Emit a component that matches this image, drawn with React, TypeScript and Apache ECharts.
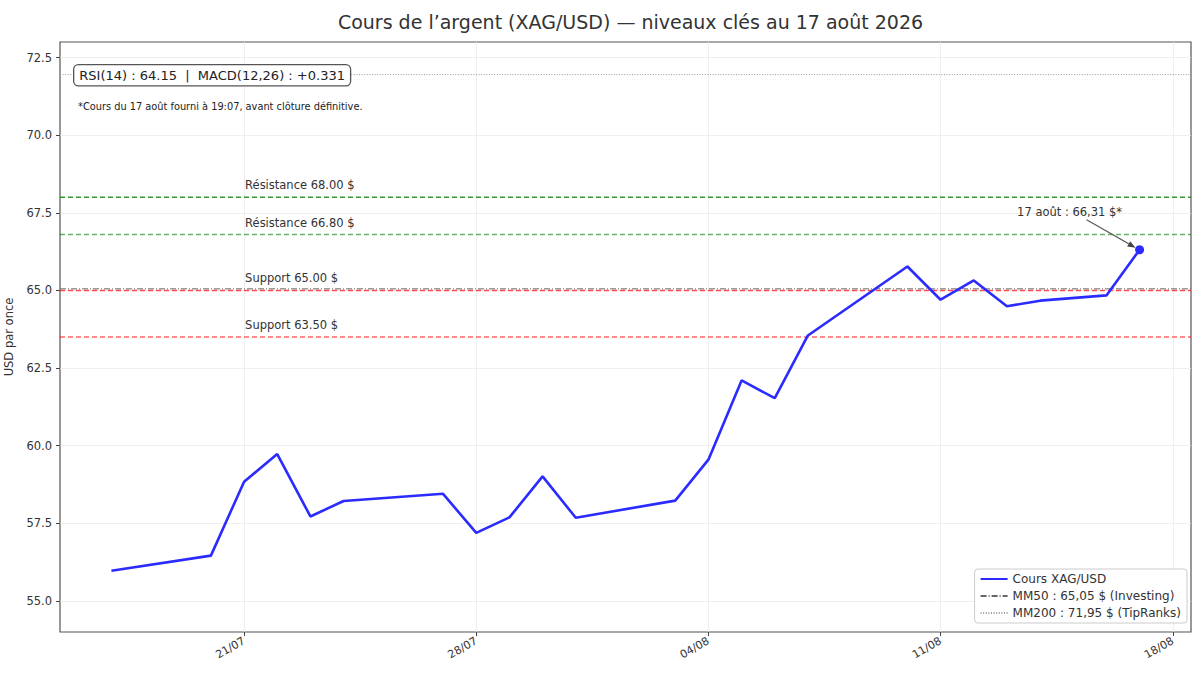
import React, { useEffect, useRef } from "react";
import * as echarts from "echarts";

const dates = [
  "2026-07-17", "2026-07-20", "2026-07-21", "2026-07-22", "2026-07-23", "2026-07-24",
  "2026-07-27", "2026-07-28", "2026-07-29", "2026-07-30", "2026-07-31",
  "2026-08-03", "2026-08-04", "2026-08-05", "2026-08-06", "2026-08-07",
  "2026-08-10", "2026-08-11", "2026-08-12", "2026-08-13", "2026-08-14",
  "2026-08-16", "2026-08-17",
];
const prices = [
  55.97, 56.46, 58.84, 59.73, 57.72, 58.22,
  58.45, 57.19, 57.69, 59.01, 57.68,
  58.23, 59.55, 62.1, 61.53, 63.55,
  65.77, 64.7, 65.32, 64.49, 64.67,
  64.84, 66.31,
];
const levelValues = [68.0, 66.8, 65.0, 63.5];
const levelLabels = ["Résistance 68.00 $", "Résistance 66.80 $", "Support 65.00 $", "Support 63.50 $"];
const levelLabelDate = "2026-07-21";
const xTickDates = ["2026-07-21", "2026-07-28", "2026-08-04", "2026-08-11", "2026-08-18"];
const yTickValues = [55, 57.5, 60, 62.5, 65, 67.5, 70, 72.5];
const mm50Value = 65.05;
const mm200Value = 71.95;
const seriesName = "Cours XAG/USD";
const mm50Name = "MM50 : 65,05 $ (Investing)";
const mm200Name = "MM200 : 71,95 $ (TipRanks)";
const titleText = "Cours de l’argent (XAG/USD) — niveaux clés au 17 août 2026";
const indicatorText = "RSI(14) : 64.15  |  MACD(12,26) : +0.331";
const footnoteText = "*Cours du 17 août fourni à 19:07, avant clôture définitive.";
const annotationText = "17 août : 66,31 $*";
const yAxisName = "USD par once";

const levelColors = ["rgba(0,128,0,0.8)", "rgba(0,128,0,0.6)", "rgba(255,0,0,0.7)", "rgba(255,0,0,0.6)"];

const FONT = "'DejaVu Sans', sans-serif";
const DAY = 86400000;

function ts(s: string): number {
  const [y, m, d] = s.split("-").map(Number);
  return Date.UTC(y, m - 1, d) / DAY;
}
function pad(n: number) {
  return n < 10 ? "0" + n : "" + n;
}

export default function App() {
  const ref = useRef<HTMLDivElement>(null);
  useEffect(() => {
    if (!ref.current) return;
    const chart = echarts.init(ref.current, null, { renderer: "svg" });
    const first = ts(dates[0]);
    const last = ts(dates[dates.length - 1]);
    const span = last - first;
    const xMin = first - 0.05 * span;
    const xMax = last + 0.05 * span;
    const blue = "#2b2bff";

    const levelSeries = levelValues.map((v, i) => ({
      name: levelLabels[i],
      type: "line",
      data: [[xMin, v], [xMax, v]],
      symbol: "none",
      silent: true,
      z: 2,
      lineStyle: { color: levelColors[i], width: 1.5, type: [5, 3] },
      markPoint: {
        silent: true,
        symbol: "circle",
        symbolSize: 0,
        data: [{ coord: [ts(levelLabelDate), v] }],
        label: {
          show: true,
          position: "inside",
          align: "left",
          verticalAlign: "middle",
          offset: [1, -12],
          formatter: levelLabels[i],
          fontFamily: FONT,
          fontSize: 11.5,
          color: "#333",
        },
      },
    }));

    chart.setOption({
      animation: false,
      backgroundColor: "#fff",
      textStyle: { fontFamily: FONT },
      title: {
        text: titleText,
        left: 625.5,
        textAlign: "center",
        top: 7,
        textStyle: { fontFamily: FONT, fontSize: 19, fontWeight: "normal", color: "#333" },
      },
      grid: {
        left: 60,
        right: 9,
        top: 42,
        bottom: 43,
        show: true,
        borderColor: "#555",
        borderWidth: 1.2,
        backgroundColor: "transparent",
        outerBoundsMode: "none",
      },
      legend: {
        data: [seriesName, mm50Name, mm200Name],
        orient: "vertical",
        right: 13,
        bottom: 52,
        itemWidth: 27,
        itemHeight: 12,
        itemGap: 5,
        padding: [4, 6, 4, 5],
        backgroundColor: "#fff",
        borderColor: "#ccc",
        borderWidth: 1,
        borderRadius: 3,
        itemStyle: { color: "transparent", borderWidth: 0, opacity: 0 },
        textStyle: { fontFamily: FONT, fontSize: 12, color: "#333" },
        selectedMode: false,
      },
      xAxis: {
        type: "value",
        min: xMin,
        max: xMax,
        axisLine: { show: false },
        axisTick: {
          show: true,
          length: 4,
          lineStyle: { color: "#444" },
          customValues: xTickDates.map(ts),
        },
        axisLabel: {
          customValues: xTickDates.map(ts),
          rotate: 30,
          margin: 8,
          fontFamily: FONT,
          fontSize: 11,
          color: "#333",
          formatter: (v: number) => {
            const d = new Date(Math.round(v) * DAY);
            return pad(d.getUTCDate()) + "/" + pad(d.getUTCMonth() + 1);
          },
        },
        splitLine: { show: true, lineStyle: { color: "#ebebeb", width: 0.8 } },
      },
      yAxis: {
        type: "value",
        min: 54,
        max: 73,
        name: yAxisName,
        nameLocation: "middle",
        nameGap: 41,
        nameRotate: 90,
        nameTextStyle: { fontFamily: FONT, fontSize: 11.5, color: "#333" },
        axisLine: { show: false },
        axisTick: {
          show: true,
          length: 4,
          lineStyle: { color: "#444" },
          customValues: yTickValues,
        },
        axisLabel: {
          customValues: yTickValues,
          margin: 8,
          fontFamily: FONT,
          fontSize: 11.5,
          color: "#333",
          formatter: (v: number) => v.toFixed(1),
        },
        splitLine: { show: true, lineStyle: { color: "#ebebeb", width: 0.8 } },
      },
      series: [
        ...levelSeries,
        {
          name: mm50Name,
          type: "line",
          data: [[xMin, mm50Value], [xMax, mm50Value]],
          symbol: "none",
          silent: true,
          z: 3,
          lineStyle: { color: "#666", width: 1, type: [6, 2, 1, 2] },
          itemStyle: { color: "#666" },
        },
        {
          name: mm200Name,
          type: "line",
          data: [[xMin, mm200Value], [xMax, mm200Value]],
          symbol: "none",
          silent: true,
          z: 3,
          lineStyle: { color: "#999", width: 1, type: [1, 1.6] },
          itemStyle: { color: "#999" },
        },
        {
          name: seriesName,
          type: "line",
          data: dates.map((d, i) => [ts(d), prices[i]]),
          symbol: "none",
          z: 5,
          lineStyle: { color: blue, width: 2.6 },
          itemStyle: { color: blue },
          markPoint: {
            silent: true,
            symbol: "circle",
            symbolSize: 9,
            itemStyle: { color: blue },
            label: { show: false },
            data: [{ coord: [last, prices[prices.length - 1]] }],
          },
        },
      ],
    });

    const p = chart.convertToPixel({ gridIndex: 0 }, [last, prices[prices.length - 1]]) as number[];
    const sx = p[0] - 53, sy = p[1] - 30;
    const ex = p[0] - 4, ey = p[1] - 2;
    const dx = ex - sx, dy = ey - sy;
    const len = Math.sqrt(dx * dx + dy * dy);
    const ux = dx / len, uy = dy / len;
    const bx = ex - ux * 8, by = ey - uy * 8;
    const nx = -uy * 3, ny = ux * 3;

    chart.setOption({
      graphic: [
        {
          type: "text",
          left: 73,
          top: 64,
          z: 100,
          style: {
            text: indicatorText,
            font: `13px ${FONT}`,
            fill: "#222",
            backgroundColor: "#fff",
            borderColor: "#555",
            borderWidth: 1.3,
            borderRadius: 4,
            padding: [4, 5, 3, 5],
          },
        },
        {
          type: "text",
          left: 78,
          top: 101,
          z: 100,
          style: { text: footnoteText, font: `9.8px ${FONT}`, fill: "#222" },
        },
        {
          type: "text",
          x: p[0] - 70,
          y: p[1] - 38,
          z: 100,
          style: {
            text: annotationText,
            font: `11.5px ${FONT}`,
            fill: "#333",
            align: "center",
            verticalAlign: "middle",
          },
        },
        {
          type: "line",
          z: 100,
          shape: { x1: sx, y1: sy, x2: bx, y2: by },
          style: { stroke: "#555", lineWidth: 1.2 },
        },
        {
          type: "polygon",
          z: 100,
          shape: { points: [[ex, ey], [bx + nx, by + ny], [bx - nx, by - ny]] },
          style: { fill: "#444" },
        },
      ],
    });

    return () => chart.dispose();
  }, []);
  return (
    <div
      ref={ref}
      style={{ position: "fixed", left: 0, top: 0, width: 1200, height: 675, background: "#fff" }}
    />
  );
}
